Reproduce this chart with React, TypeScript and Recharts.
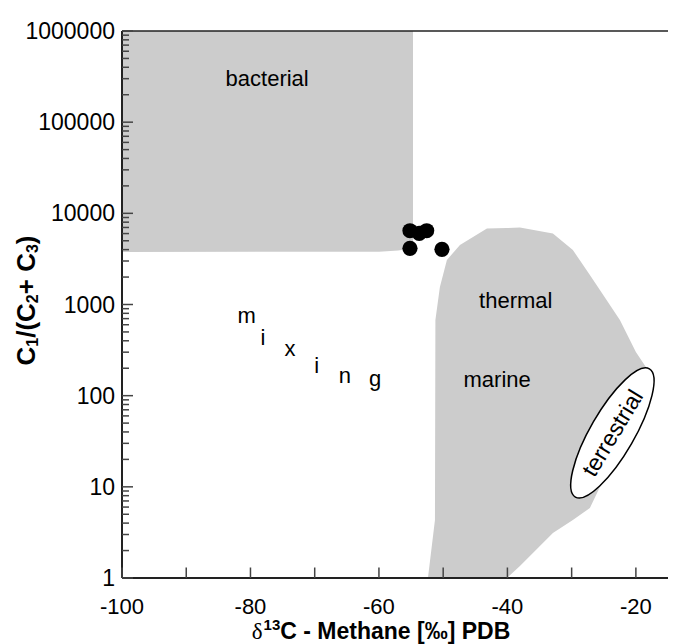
import React from "react";
import {
  ComposedChart,
  Area,
  Scatter,
  XAxis,
  YAxis,
  ReferenceLine,
} from "recharts";

// bacterial field (rectangle with a slightly raised bottom-right corner)
const bacterialX = [-100, -60, -57, -55.5, -54.7];
const bacterialLow = [3760, 3800, 3900, 4050, 4300];
const bacterialHigh = [1000000, 1000000, 1000000, 1000000, 1000000];

// thermal / marine field outline
const thermalX = [-52.37, -51.28, -51.21, -50.51, -49.42, -47.39, -43.19, -40.08, -38.05, -32.92, -29.81, -27.16, -25.6, -22.49, -20.0, -18.13, -17.51];
const thermalHigh = [1, 4.33, 676, 1555, 3076, 4496, 6810, 6900, 6980, 5995, 3960, 2105, 1443, 676, 301, 191, 121];
const thermalLow = [1, 1, 1, 1, 1, 1, 1, 1, 1.35, 3.12, 4.33, 5.86, 9.96, 22.3, 42, 89.6, 121];

// samples
const sampleX = [-55.17, -53.73, -52.57, -55.17, -50.19];
const sampleY = [6445, 6040, 6445, 4130, 4030];

// terrestrial ellipse centre
const terrestrialX = [-23.66];
const terrestrialY = [39];

// field names
const labelText = ["bacterial", "thermal", "marine"];
const labelX = [-77.4, -38.7, -41.6];
const labelY = [305000, 1100, 152];

// "mixing" spelled along the mixing trend
const mixLetters = ["m", "i", "x", "i", "n", "g"];
const mixX = [-80.6, -78.05, -73.85, -69.7, -65.3, -60.6];
const mixY = [755, 437, 325, 214, 166, 153];

const xTicks = [-100, -90, -80, -70, -60, -50, -40, -30, -20];
const xLabelled = [-100, -80, -60, -40, -20];
const yDecades = [1, 10, 100, 1000, 10000, 100000, 1000000];
const yTicks: number[] = [];
yDecades.forEach((d, i) => {
  const top = i === yDecades.length - 1 ? 1 : 9;
  for (let m = 1; m <= top; m++) yTicks.push(d * m);
});

const font = "'Liberation Sans', Arial, sans-serif";

const bacterialData = bacterialX.map((x, i) => ({ x, range: [bacterialLow[i], bacterialHigh[i]] }));
const thermalData = thermalX.map((x, i) => ({ x, range: [thermalLow[i], thermalHigh[i]] }));
const sampleData = sampleX.map((x, i) => ({ x, y: sampleY[i] }));
const terrestrialData = terrestrialX.map((x, i) => ({ x, y: terrestrialY[i] }));
const labelData = labelText.map((t, i) => ({ x: labelX[i], y: labelY[i], t }));
const mixData = mixLetters.map((t, i) => ({ x: mixX[i], y: mixY[i], t }));

const YTick = (props: any) => {
  const { x, y, payload } = props;
  const major = yDecades.includes(payload.value);
  return (
    <g>
      <line x1={x} x2={x + (major ? 11 : 7)} y1={y} y2={y} stroke="#444" strokeWidth={1.5} />
      {major && (
        <text x={x - 7} y={y} textAnchor="end" dominantBaseline="central" fontSize={23} fontFamily={font} fill="#000">
          {payload.value}
        </text>
      )}
    </g>
  );
};

const XTick = (props: any) => {
  const { x, y, payload } = props;
  const lab = xLabelled.includes(payload.value);
  return (
    <g>
      <line x1={x} x2={x} y1={y} y2={y - 10.5} stroke="#444" strokeWidth={1.5} />
      {lab && (
        <text x={x} y={y + 36} textAnchor="middle" fontSize={22} fontFamily={font} fill="#000">
          {payload.value}
        </text>
      )}
    </g>
  );
};

const Dot = (props: any) => <circle cx={props.cx} cy={props.cy} r={7.6} fill="#000" />;

const Ellipse = (props: any) => (
  <g>
    <ellipse
      cx={props.cx}
      cy={props.cy}
      rx={74}
      ry={22}
      transform={`rotate(-60 ${props.cx} ${props.cy})`}
      fill="#fff"
      stroke="#000"
      strokeWidth={1.5}
    />
    <text
      x={props.cx}
      y={props.cy}
      textAnchor="middle"
      dominantBaseline="central"
      fontSize={23}
      fontFamily={font}
      fill="#000"
      transform={`rotate(-59 ${props.cx} ${props.cy})`}
    >
      terrestrial
    </text>
  </g>
);

const Word = (props: any) => (
  <text x={props.cx} y={props.cy} textAnchor="middle" dominantBaseline="central" fontSize={22} fontFamily={font} fill="#000">
    {props.payload.t}
  </text>
);

const YTitle = (props: any) => {
  const vb = props.viewBox;
  const cx = vb.x + 26;
  const cy = vb.y + vb.height / 2 - 4;
  return (
    <text
      x={cx}
      y={cy}
      transform={`rotate(-90 ${cx} ${cy})`}
      textAnchor="middle"
      dominantBaseline="central"
      fontSize={26}
      fontWeight="bold"
      fontFamily={font}
      fill="#000"
    >
      C<tspan fontSize={16} dy={6}>1</tspan>
      <tspan dy={-6}>/(C</tspan>
      <tspan fontSize={16} dy={6}>2</tspan>
      <tspan dy={-6}>+ C</tspan>
      <tspan fontSize={16} dy={6}>3</tspan>
      <tspan dy={-6}>)</tspan>
    </text>
  );
};

const XTitle = (props: any) => {
  const vb = props.viewBox;
  return (
    <text
      x={vb.x + 259}
      y={vb.y + 61}
      textAnchor="middle"
      fontSize={23}
      fontWeight="bold"
      fontFamily={font}
      fill="#000"
    >
      <tspan fontFamily="'Liberation Serif', serif" fontWeight="normal">δ</tspan>
      <tspan fontSize={15} dx={1} dy={-9}>13</tspan>
      <tspan dy={9}>C - Methane [‰] PDB</tspan>
    </text>
  );
};

export default function App() {
  return (
    <div style={{ position: "absolute", left: 0, top: 0, width: 675, height: 644, background: "#fff" }}>
      <ComposedChart width={675} height={644} margin={{ top: 31, right: 7, bottom: 0, left: 0 }}>
        <Area
          data={bacterialData}
          dataKey="range"
          type="linear"
          stroke="none"
          fill="#cccccc"
          fillOpacity={1}
          dot={false}
          activeDot={false}
          isAnimationActive={false}
        />
        <Area
          data={thermalData}
          dataKey="range"
          type="linear"
          stroke="none"
          fill="#cccccc"
          fillOpacity={1}
          dot={false}
          activeDot={false}
          isAnimationActive={false}
        />
        <XAxis
          type="number"
          dataKey="x"
          domain={[-100, -15]}
          allowDataOverflow
          ticks={xTicks}
          interval={0}
          tickSize={0}
          tickMargin={0}
          tick={<XTick />}
          height={66}
          axisLine={{ stroke: "#222", strokeWidth: 2 }}
          label={{ content: <XTitle /> }}
        />
        <YAxis
          type="number"
          scale="log"
          domain={[1, 1000000]}
          allowDataOverflow
          ticks={yTicks}
          interval={0}
          tickSize={0}
          tickMargin={0}
          tick={<YTick />}
          width={122}
          axisLine={{ stroke: "#222", strokeWidth: 2 }}
          label={{ content: <YTitle /> }}
        />
        <ReferenceLine y={1000000} stroke="#222" strokeWidth={1.5} />
        <Scatter data={terrestrialData} dataKey="y" shape={<Ellipse />} isAnimationActive={false} />
        <Scatter data={labelData} dataKey="y" shape={<Word />} isAnimationActive={false} />
        <Scatter data={mixData} dataKey="y" shape={<Word />} isAnimationActive={false} />
        <Scatter data={sampleData} dataKey="y" shape={<Dot />} isAnimationActive={false} />
      </ComposedChart>
    </div>
  );
}
